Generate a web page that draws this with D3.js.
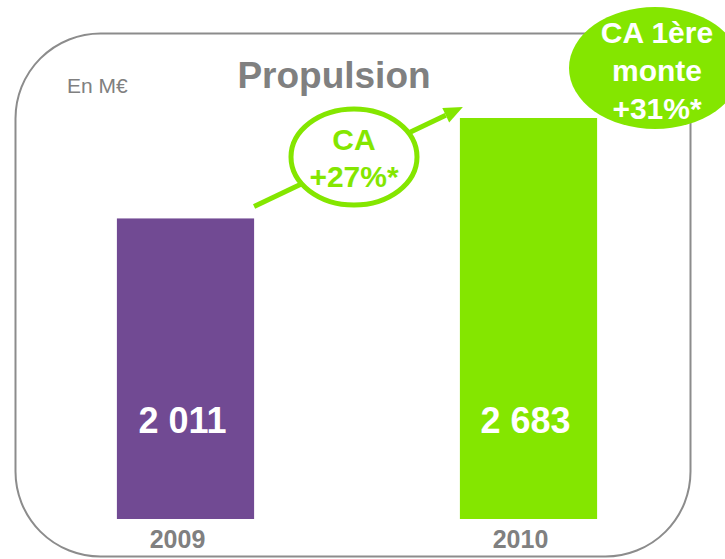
<!DOCTYPE html>
<html>
<head>
<meta charset="utf-8">
<script src="https://cdn.jsdelivr.net/npm/d3@7"></script>
<style>
  html, body { margin: 0; padding: 0; background: #fff; }
  svg { display: block; font-family: 'Liberation Sans', Arial, sans-serif; }
</style>
</head>
<body>
<div id="chart"></div>
<script>
// data (M€)
const years = ['2009', '2010'];
const values = [2011, 2683];
const valueLabels = ['2 011', '2 683'];
const barColors = ['#714A93', '#84E600'];
const growthLabel = ['CA', '+27%*'];
const oemLabel = ['CA 1ère', 'monte', '+31%*'];

const W = 725, H = 559;
const green = '#84E600';
const grey = '#808080';

const svg = d3.select('#chart').append('svg')
  .attr('width', W)
  .attr('height', H);

// rounded frame
svg.append('rect')
  .attr('x', 15.5).attr('y', 33.5)
  .attr('width', 675).attr('height', 523)
  .attr('rx', 85).attr('ry', 85)
  .attr('fill', 'none')
  .attr('stroke', '#8c8c8c')
  .attr('stroke-width', 2);

const x = d3.scaleBand()
  .domain(years)
  .range([14, 700])
  .paddingInner(0.6)
  .paddingOuter(0.3);

const y = d3.scaleLinear()
  .domain([0, d3.max(values)])
  .range([519, 118]);

const data = years.map((yr, i) => ({ year: yr, value: values[i], label: valueLabels[i], color: barColors[i] }));

// bars
svg.selectAll('rect.bar')
  .data(data)
  .enter()
  .append('rect')
  .attr('class', 'bar')
  .attr('x', (d) => x(d.year))
  .attr('y', (d) => y(d.value))
  .attr('width', x.bandwidth())
  .attr('height', (d) => y(0) - y(d.value))
  .attr('fill', (d) => d.color);

// value labels inside bars
svg.selectAll('text.val')
  .data(data)
  .enter()
  .append('text')
  .attr('class', 'val')
  .attr('x', (d) => x(d.year) + x.bandwidth() / 2 - 3)
  .attr('y', 433)
  .attr('text-anchor', 'middle')
  .attr('fill', '#fff')
  .style('font-size', '36px')
  .style('font-weight', 'bold')
  .text((d) => d.label);

// year labels
svg.selectAll('text.year')
  .data(data)
  .enter()
  .append('text')
  .attr('class', 'year')
  .attr('x', (d) => x(d.year) + x.bandwidth() / 2 - 8)
  .attr('y', 548)
  .attr('text-anchor', 'middle')
  .attr('fill', grey)
  .style('font-size', '25px')
  .style('font-weight', 'bold')
  .text((d) => d.year);

// title and unit
svg.append('text')
  .attr('x', 334).attr('y', 88)
  .attr('text-anchor', 'middle')
  .attr('fill', grey)
  .style('font-size', '37px')
  .style('font-weight', 'bold')
  .text('Propulsion');

svg.append('text')
  .attr('x', 67).attr('y', 93)
  .attr('fill', grey)
  .style('font-size', '21px')
  .text('En M€');

// growth arrow from top of 2009 bar to top of 2010 bar
const x0 = x(years[0]) + x.bandwidth();
const y0 = y(values[0]) - 12;
const x1 = x(years[1]) + 3;
const y1 = y(values[1]) - 11;
const ang = Math.atan2(y1 - y0, x1 - x0);
const headLen = 19, headW = 8;
const bx = x1 - headLen * Math.cos(ang);
const by = y1 - headLen * Math.sin(ang);

svg.append('line')
  .attr('x1', x0).attr('y1', y0)
  .attr('x2', bx).attr('y2', by)
  .attr('stroke', green)
  .attr('stroke-width', 5);

svg.append('path')
  .attr('d', d3.line()([
    [x1, y1],
    [bx + headW * Math.sin(ang), by - headW * Math.cos(ang)],
    [bx - headW * Math.sin(ang), by + headW * Math.cos(ang)],
  ]) + 'Z')
  .attr('fill', green);

// "CA +27%*" bubble on the arrow
const g1 = svg.append('g').attr('transform', 'translate(354,157)');
g1.append('ellipse')
  .attr('rx', 63).attr('ry', 48)
  .attr('fill', '#fff')
  .attr('stroke', green)
  .attr('stroke-width', 5);
g1.selectAll('text')
  .data(growthLabel)
  .enter()
  .append('text')
  .attr('x', 0)
  .attr('y', (d, i) => -7 + i * 37)
  .attr('text-anchor', 'middle')
  .attr('fill', green)
  .style('font-size', '30px')
  .style('font-weight', 'bold')
  .text((d) => d);

// "CA 1ère monte +31%*" bubble
svg.append('ellipse')
  .attr('cx', 655).attr('cy', 68)
  .attr('rx', 86).attr('ry', 61)
  .attr('fill', green);
svg.selectAll('text.oem')
  .data(oemLabel)
  .enter()
  .append('text')
  .attr('class', 'oem')
  .attr('x', 657)
  .attr('y', (d, i) => 43 + i * 38)
  .attr('text-anchor', 'middle')
  .attr('fill', '#fff')
  .style('font-size', '30px')
  .style('font-weight', 'bold')
  .text((d) => d);
</script>
</body>
</html>
